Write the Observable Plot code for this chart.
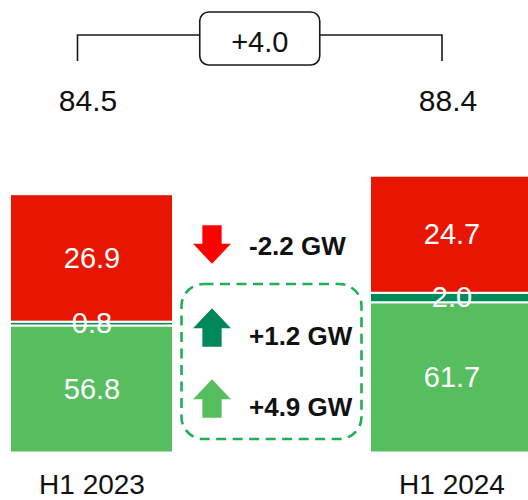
<!DOCTYPE html>
<html>
<head>
<meta charset="utf-8">
<script src="https://cdn.jsdelivr.net/npm/d3@7"></script>
<script src="https://cdn.jsdelivr.net/npm/@observablehq/plot@0.6"></script>
<style>
  html, body { margin: 0; padding: 0; background: #fff; }
  #chart { width: 528px; height: 500px; overflow: hidden; }
</style>
</head>
<body>
<div id="chart"></div>
<script>
// ---- data ----
const periods = ["H1 2023", "H1 2024"];
const seriesNames = ["Series A", "Series B", "Series C"];
const seriesA = [56.8, 61.7];
const seriesB = [0.8, 2.0];
const seriesC = [26.9, 24.7];
const totals = [84.5, 88.4];
const differenceLabel = "+4.0";
const changeLabels = ["-2.2 GW", "+1.2 GW", "+4.9 GW"];
const changeDirections = ["down", "up", "up"];

// ---- styles / layout ----
const font = "Liberation Sans, Arial, Helvetica, sans-serif";
const seriesColors = ["#57BE60", "#008C5A", "#E81600"];
const arrowColors = ["#FF0000", "#00875A", "#57BE60"];
const gap = "change";
const arrowRowY = [244, 327, 398];
const changeTextY = [246, 336, 407];

const seriesValues = [seriesA, seriesB, seriesC];
const yMin = 30;
const rows = [];
periods.forEach((p, i) => {
  let cum = 0;
  seriesNames.forEach((s, j) => {
    const v = seriesValues[j][i];
    rows.push({period: p, series: s, value: v, y1: cum, y2: cum + v});
    cum += v;
  });
});
const totalRows = periods.map((p, i) => ({period: p, total: totals[i]}));
const changeRows = changeLabels.map((l, i) => ({label: l, dir: changeDirections[i]}));

const blockArrow = {
  draw(ctx, size) {
    const r = Math.sqrt(size / Math.PI);
    const hw = r * 0.98, sw = r * 0.5, hb = r * 0.04;
    ctx.moveTo(0, -r);
    ctx.lineTo(hw, hb);
    ctx.lineTo(sw, hb);
    ctx.lineTo(sw, r);
    ctx.lineTo(-sw, r);
    ctx.lineTo(-sw, hb);
    ctx.lineTo(-hw, hb);
    ctx.closePath();
  }
};

function bw(x) {
  return typeof x.bandwidth === "function" ? x.bandwidth() : (x.bandwidth ?? 0);
}

function annotations(index, scales) {
  const x = scales.x, b = bw(x);
  const xl = x(periods[0]) + b / 2 - 14;
  const xr = x(periods[1]) + b / 2 - 9.5;
  const xm = (xl + xr) / 2;
  const g = d3.create("svg:g");
  g.append("path")
    .attr("d", `M${xl},61V35H${xr}V61`)
    .attr("fill", "none").attr("stroke", "#1a1a1a").attr("stroke-width", 1.6);
  g.append("rect")
    .attr("x", xm - 60).attr("y", 12).attr("width", 120).attr("height", 53).attr("rx", 9)
    .attr("fill", "white").attr("stroke", "#1a1a1a").attr("stroke-width", 1.6);
  g.append("text")
    .attr("x", xm).attr("y", 52).attr("text-anchor", "middle")
    .attr("font-family", font).attr("font-size", 29).attr("fill", "#111")
    .text(differenceLabel);
  const xc = x(gap) + b / 2;
  g.append("rect")
    .attr("x", xc - 90).attr("y", 284).attr("width", 180).attr("height", 155).attr("rx", 22)
    .attr("fill", "none").attr("stroke", "#1FAF55").attr("stroke-width", 2.6)
    .attr("stroke-dasharray", "10 6.5");
  return g.node();
}

const changeMarks = changeRows.flatMap((c, i) => [
  Plot.dot([c], {
    x: () => gap, frameAnchor: "top", dy: arrowRowY[i], dx: -60,
    symbol: blockArrow, r: 19.3, rotate: c.dir === "down" ? 180 : 0,
    fill: arrowColors[i], stroke: "none"
  }),
  Plot.text([c], {
    x: () => gap, frameAnchor: "top", dy: changeTextY[i], dx: -23,
    text: "label", textAnchor: "start", lineAnchor: "middle",
    fontSize: 26, fontWeight: "bold", fontFamily: font, fill: "#111"
  })
]);

const chart = Plot.plot({
  width: 528,
  height: 500,
  marginTop: 0,
  marginBottom: 48,
  marginLeft: 9,
  marginRight: 0,
  style: {fontFamily: font, background: "white", color: "#111"},
  x: {domain: [periods[0], gap, periods[1]], range: [9, 534.4], paddingInner: 0.0948, paddingOuter: 0, axis: null},
  y: {domain: [yMin, d3.max(totals)], range: [452.5, 175.7], clamp: true, axis: null},
  color: {domain: seriesNames, range: seriesColors},
  marks: [
    Plot.barY(rows, {x: "period", y1: "y1", y2: "y2", fill: "series", stroke: "white", strokeWidth: 2}),
    Plot.text(rows, {
      x: "period", y: d => (Math.max(d.y1, yMin) + d.y2) / 2,
      text: d => d.value.toFixed(1), fill: "white", fontSize: 29, fontFamily: font, lineAnchor: "middle"
    }),
    Plot.text(totalRows, {
      x: "period", frameAnchor: "top", dy: 101, dx: -4,
      text: d => d.total.toFixed(1), fontSize: 30, fontFamily: font, fill: "#111", lineAnchor: "middle"
    }),
    Plot.axisX(periods, {tickSize: 0, tickPadding: 22, fontSize: 28, fontFamily: font, fill: "#111", label: null}),
    ...changeMarks,
    annotations
  ]
});
document.getElementById("chart").appendChild(chart);
</script>
</body>
</html>
